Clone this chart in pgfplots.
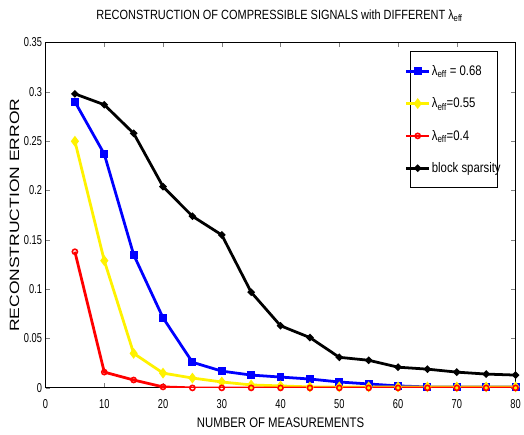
\documentclass[border=0pt]{standalone}
\usepackage{fontspec}
\setmainfont[FakeStretch=0.82]{Liberation Sans}
\newfontfamily\tickfont[FakeStretch=0.72]{Liberation Sans}
\newfontfamily\ylabfont[FakeStretch=1.3]{Liberation Sans}
\usepackage{pgfplots}
\pgfplotsset{compat=1.18}
\begin{document}
\begin{tikzpicture}
\begin{axis}[
    scale only axis,
    width=475pt, height=349pt,
    xmin=0, xmax=80, ymin=0, ymax=0.35,
    xtick={0,10,...,80},
    ytick={0,0.05,0.1,0.15,0.2,0.25,0.3,0.35},
    yticklabel style={/pgf/number format/fixed, /pgf/number format/precision=2},
    xticklabel style={yshift=-8pt},
    /pgf/number format/assume math mode=true,
    tick label style={font=\tickfont\fontsize{13}{15}\selectfont},
    xlabel={NUMBER OF MEASUREMENTS},
    ylabel={RECONSTRUCTION ERROR},
    xlabel style={font=\fontsize{14}{16}\selectfont, yshift=-3pt},
    ylabel style={font=\ylabfont\fontsize{13.6}{15}\selectfont, yshift=-2pt},
    title={RECONSTRUCTION OF COMPRESSIBLE SIGNALS with DIFFERENT λ\textsubscript{eff}},
    title style={font=\fontsize{13.5}{16}\selectfont, yshift=12pt, xshift=-1pt},
    axis line style={line width=1pt},
    major tick length=5pt,
    legend cell align=left,
    legend image code/.code={\draw[mark repeat=2,mark phase=2] plot coordinates {(0cm,0cm) (0.4cm,0cm) (0.8cm,0cm)};},
    legend style={font=\fontsize{14}{16}\selectfont, line width=1pt, row sep=17pt,
        inner xsep=-5pt, inner ysep=12pt, nodes={inner xsep=1.5pt, inner ysep=2pt},
        at={(0.962,0.975)}, anchor=north east},
    every axis plot/.append style={line width=2.8pt},
]
\addplot[blue, mark=square*, mark size=2.6pt] coordinates {
(5,0.290)(10,0.237)(15,0.135)(20,0.071)(25,0.026)(30,0.017)(35,0.013)(40,0.011)
(45,0.009)(50,0.006)(55,0.004)(60,0.002)(65,0.001)(70,0.001)(75,0.001)(80,0.001)};
\addlegendentry{λ\textsubscript{eff} = 0.68}
\addplot[yellow, mark=diamond*, mark size=3.2pt] coordinates {
(5,0.250)(10,0.129)(15,0.035)(20,0.015)(25,0.010)(30,0.006)(35,0.003)(40,0.002)
(45,0.001)(50,0.001)(55,0.001)(60,0.001)(65,0.001)(70,0.001)(75,0.001)(80,0.001)};
\addlegendentry{λ\textsubscript{eff}=0.55}
\addplot[red, mark=o, mark size=2.6pt, mark options={line width=1.6pt}] coordinates {
(5,0.138)(10,0.016)(15,0.008)(20,0.001)(25,0)(30,0)(35,0)(40,0)
(45,0)(50,0)(55,0)(60,0)(65,0)(70,0)(75,0)(80,0)};
\addlegendentry{λ\textsubscript{eff}=0.4}
\addplot[black, mark=*, mark size=2pt] coordinates {
(5,0.298)(10,0.287)(15,0.258)(20,0.204)(25,0.174)(30,0.155)(35,0.097)(40,0.063)
(45,0.051)(50,0.031)(55,0.028)(60,0.021)(65,0.019)(70,0.016)(75,0.014)(80,0.013)};
\addlegendentry{block sparsity}
\end{axis}
\path (current axis.south west)+(-46pt,-47pt) (current axis.north east)+(3pt,43pt);
\end{tikzpicture}
\end{document}
